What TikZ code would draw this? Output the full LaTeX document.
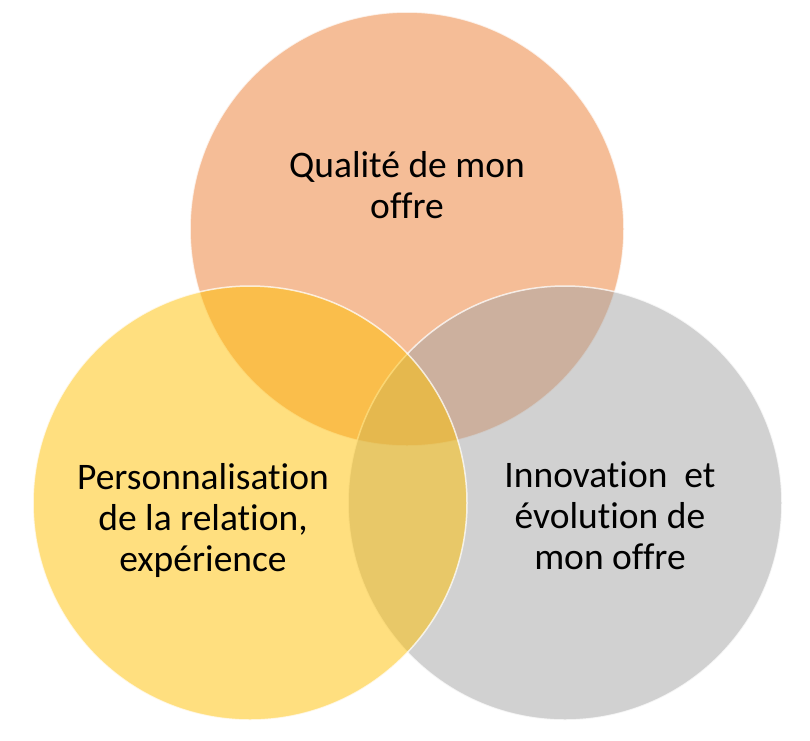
\documentclass[tikz,border=0pt]{standalone}
\usepackage{fontspec}
\setmainfont[Ligatures=NoCommon]{Carlito}
\definecolor{cOrange}{HTML}{ED7D31}
\definecolor{cYellow}{HTML}{FFC000}
\definecolor{cGray}{HTML}{A5A5A5}
\tikzset{
  venn/.style={circle, minimum size=434pt, inner sep=0pt, fill opacity=0.5, draw=white, draw opacity=0.75, line width=1.5pt},
  lbl/.style={align=center, font=\fontsize{37.5}{41}\selectfont, text=black}
}
\begin{document}
\begin{tikzpicture}[x=1pt,y=-1pt]
\useasboundingbox[fill=white] (0,0) rectangle (810,740);
\node[venn, fill=cOrange] (top) at (407,229) {};
\node[venn, fill=cGray] (right) at (565,503) {};
\node[venn, fill=cYellow] (left) at (250,503) {};
\node[lbl] (ttop) at (407,185) {Qualité de mon\\offre};
\node[lbl] (tleft) at (203,520) {Personnalisation\\de la relation,\\expérience};
\node[lbl] (tright) at (610,516) {Innovation~ et\\évolution de\\mon offre};
\end{tikzpicture}
\end{document}
